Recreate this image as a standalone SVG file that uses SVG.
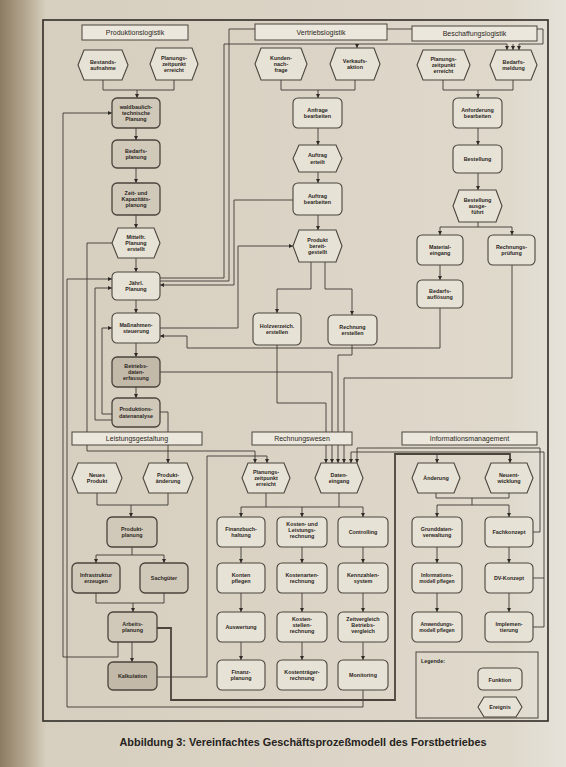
<svg xmlns="http://www.w3.org/2000/svg" width="566" height="767" viewBox="0 0 566 767">
<defs>
<linearGradient id="bg" x1="0" y1="0" x2="1" y2="0">
<stop offset="0" stop-color="#8c7c63"/>
<stop offset="0.045" stop-color="#b5a78f"/>
<stop offset="0.08" stop-color="#d6cebe"/>
<stop offset="0.9" stop-color="#dfd9cc"/>
<stop offset="1" stop-color="#e6e2da"/>
</linearGradient>
<marker id="a" viewBox="0 0 6 6" refX="6" refY="3" markerWidth="4" markerHeight="4" orient="auto" markerUnits="userSpaceOnUse">
<path d="M0,0L6,3L0,6z" fill="#2e2a26"/>
</marker>
<style>
.n{fill:#e7e2d6;stroke:#4a443d;stroke-width:1.1}
.s{fill:#d0c8b8;stroke:#4a443d;stroke-width:1.3}
.sd{fill:#c2b9a8;stroke:#4a443d;stroke-width:1.3}
.t{font-family:"Liberation Sans",Arial,sans-serif;font-size:5.4px;font-weight:bold;fill:#2b2723;text-anchor:middle}
.hr{fill:#ebe7dd;stroke:#4a443d;stroke-width:1}
.ht{font-family:"Liberation Sans",Arial,sans-serif;font-size:7px;fill:#2b2723;text-anchor:middle}
.c{fill:none;stroke:#3d3833;stroke-width:0.9}
.ca{fill:none;stroke:#3d3833;stroke-width:0.9;marker-end:url(#a)}
.ck{fill:none;stroke:#4a443d;stroke-width:1.8}
.fr{fill:none;stroke:#3a3530;stroke-width:1.7}
</style>
</defs>
<rect x="0" y="0" width="566" height="767" fill="url(#bg)"/>
<rect class="fr" x="43" y="20" width="505" height="701"/>

<g id="connectors">
<path class="c" d="M103,80V90H174V80"/>
<path class="ca" d="M137,90V98"/>
<path class="ca" d="M136,128V140"/>
<path class="ca" d="M136,168V183"/>
<path class="ca" d="M136,215V228"/>
<path class="ca" d="M136,258V272"/>
<path class="ca" d="M136,300V313"/>
<path class="ca" d="M136,343V357"/>
<path class="ca" d="M136,387V398"/>
<path class="ca" d="M118,642V657H63V113H112"/>
<path class="ca" d="M363,690V707H67V279H112"/>
<path class="ca" d="M112,420H95V288H112"/>
<path class="ca" d="M112,414H102V328H112"/>
<path class="ca" d="M113,243H87V451H255V463"/>
<path class="ca" d="M160,412H168V463"/>
<path class="ca" d="M160,372H332V463"/>
<path class="ca" d="M160,328H238V246H293"/>
<path class="ca" d="M440,308V348H187V336H160"/>
<path class="ca" d="M160,278H224V44H507V50"/>
<path class="ca" d="M357,44V48"/>
<path class="ca" d="M160,281H229V29H543V44H519V50"/>
<path class="ca" d="M513,44V50"/>
<path class="ca" d="M293,200H234V285H160"/>
<path class="c" d="M281,80V90H355V80"/>
<path class="ca" d="M318,90V98"/>
<path class="ca" d="M318,128V145"/>
<path class="ca" d="M318,172V183"/>
<path class="ca" d="M318,215V230"/>
<path class="ca" d="M311,262V289H277V313"/>
<path class="ca" d="M325,262V289H352V315"/>
<path class="ca" d="M277,345V403H326V463"/>
<path class="ca" d="M352,345V355H338V463"/>
<path class="ca" d="M512,265V378H344V463"/>
<path class="c" d="M443,80V90H513V80"/>
<path class="ca" d="M478,90V98"/>
<path class="ca" d="M478,128V145"/>
<path class="ca" d="M478,173V190"/>
<path class="ca" d="M478,222V227H440V235"/>
<path class="ca" d="M478,227H512V235"/>
<path class="ca" d="M440,265V280"/>
<path class="c" d="M97,493V505H168V493"/>
<path class="ca" d="M131,505V517"/>
<path class="ca" d="M132,547V555H96V563"/>
<path class="ca" d="M132,555H164V563"/>
<path class="c" d="M96,593V603H164V593"/>
<path class="ca" d="M133,603V612"/>
<path class="ca" d="M132,642V662"/>
<path class="ca" d="M157,677H207V456H267V463"/>
<path class="ck" d="M157,628H171V700H395V454H510V460"/>
<path class="ca" d="M510,458V463"/>
<path class="ca" d="M437,454V463"/>
<path class="c" d="M266,493V507M339,493V507M241,507H363"/>
<path class="ca" d="M241,507V517"/>
<path class="ca" d="M302,507V517"/>
<path class="ca" d="M363,507V517"/>
<path class="ca" d="M241,547V563"/>
<path class="ca" d="M241,593V612"/>
<path class="ca" d="M241,642V660"/>
<path class="ca" d="M302,547V563"/>
<path class="ca" d="M302,593V612"/>
<path class="ca" d="M302,642V660"/>
<path class="ca" d="M363,547V563"/>
<path class="ca" d="M363,593V612"/>
<path class="ca" d="M363,642V660"/>
<path class="c" d="M436,493V498H509V493M472,498V505M437,505H509"/>
<path class="ca" d="M437,505V517"/>
<path class="ca" d="M509,505V517"/>
<path class="ca" d="M437,547V563"/>
<path class="ca" d="M437,593V612"/>
<path class="ca" d="M509,547V563"/>
<path class="ca" d="M509,593V612"/>
<path class="ca" d="M533,532H540V448H357V463"/>
<path class="ca" d="M533,578H544V452H351V463"/>
<path class="c" d="M533,627H544V578"/>
</g>

<g id="headers">
<g id="h-produktion"><rect class="hr" x="82" y="25" width="106" height="15"/><text class="ht" x="135" y="35">Produktionslogistik</text></g>
<g id="h-vertrieb"><rect class="hr" x="255" y="24" width="132" height="16"/><text class="ht" x="321" y="34.5">Vertriebslogistik</text></g>
<g id="h-beschaffung"><rect class="hr" x="412" y="26" width="125" height="15"/><text class="ht" x="474.5" y="36">Beschaffungslogistik</text></g>
<g id="h-leistung"><rect class="hr" x="72" y="432" width="130" height="13"/><text class="ht" x="137" y="441">Leistungsgestaltung</text></g>
<g id="h-rechnung"><rect class="hr" x="252" y="432" width="100" height="13"/><text class="ht" x="302" y="441">Rechnungswesen</text></g>
<g id="h-info"><rect class="hr" x="402" y="432" width="135" height="13"/><text class="ht" x="469.5" y="441">Informationsmanagement</text></g>
</g>

<g id="bestandsaufnahme"><polygon class="n" points="78,65 84,50 122,50 128,65 122,80 84,80"/><text class="t" y="63.7"><tspan x="103">Bestands-</tspan><tspan x="103" dy="6.4">aufnahme</tspan></text></g>
<g id="p-planungszeitpunkt"><polygon class="n" points="150,64 156,48 192,48 198,64 192,80 156,80"/><text class="t" y="59.5"><tspan x="174">Planungs-</tspan><tspan x="174" dy="6.4">zeitpunkt</tspan><tspan x="174" dy="6.4">erreicht</tspan></text></g>
<g id="waldbau"><rect class="s" x="112" y="98" width="48" height="30" rx="5"/><text class="t" y="108.5"><tspan x="136">waldbaulich-</tspan><tspan x="136" dy="6.4">technische</tspan><tspan x="136" dy="6.4">Planung</tspan></text></g>
<g id="bedarfsplanung"><rect class="s" x="112" y="140" width="48" height="28" rx="5"/><text class="t" y="152.7"><tspan x="136">Bedarfs-</tspan><tspan x="136" dy="6.4">planung</tspan></text></g>
<g id="zeitplanung"><rect class="s" x="112" y="183" width="48" height="32" rx="5"/><text class="t" y="194.5"><tspan x="136">Zeit- und</tspan><tspan x="136" dy="6.4">Kapazitäts-</tspan><tspan x="136" dy="6.4">planung</tspan></text></g>
<g id="mittelfr"><polygon class="n" points="112,243 118,228 154,228 160,243 154,258 118,258"/><text class="t" y="238.5"><tspan x="136">Mittelfr.</tspan><tspan x="136" dy="6.4">Planung</tspan><tspan x="136" dy="6.4">erstellt</tspan></text></g>
<g id="jaehrl"><rect class="n" x="112" y="272" width="48" height="28" rx="5"/><text class="t" y="284.7"><tspan x="136">Jährl.</tspan><tspan x="136" dy="6.4">Planung</tspan></text></g>
<g id="massnahmen"><rect class="n" x="112" y="313" width="48" height="30" rx="5"/><text class="t" y="326.7"><tspan x="136">Maßnahmen-</tspan><tspan x="136" dy="6.4">steuerung</tspan></text></g>
<g id="betriebsdaten"><rect class="sd" x="112" y="357" width="48" height="30" rx="5"/><text class="t" y="367.5"><tspan x="136">Betriebs-</tspan><tspan x="136" dy="6.4">daten-</tspan><tspan x="136" dy="6.4">erfassung</tspan></text></g>
<g id="produktionsdaten"><rect class="s" x="112" y="398" width="48" height="29" rx="5"/><text class="t" y="411.2"><tspan x="136">Produktions-</tspan><tspan x="136" dy="6.4">datenanalyse</tspan></text></g>

<g id="kundennachfrage"><polygon class="n" points="255,64 261,48 301,48 307,64 301,80 261,80"/><text class="t" y="59.5"><tspan x="281">Kunden-</tspan><tspan x="281" dy="6.4">nach-</tspan><tspan x="281" dy="6.4">frage</tspan></text></g>
<g id="verkaufsaktion"><polygon class="n" points="330,64 336,48 374,48 380,64 374,80 336,80"/><text class="t" y="62.7"><tspan x="355">Verkaufs-</tspan><tspan x="355" dy="6.4">aktion</tspan></text></g>
<g id="anfrage"><rect class="n" x="293" y="98" width="49" height="30" rx="5"/><text class="t" y="111.7"><tspan x="317.5">Anfrage</tspan><tspan x="317.5" dy="6.4">bearbeiten</tspan></text></g>
<g id="auftrag-erteilt"><polygon class="n" points="293,158.5 299,145 336,145 342,158.5 336,172 299,172"/><text class="t" y="157.2"><tspan x="317.5">Auftrag</tspan><tspan x="317.5" dy="6.4">erteilt</tspan></text></g>
<g id="auftrag-bearbeiten"><rect class="n" x="293" y="183" width="49" height="32" rx="5"/><text class="t" y="197.7"><tspan x="317.5">Auftrag</tspan><tspan x="317.5" dy="6.4">bearbeiten</tspan></text></g>
<g id="produkt-bereit"><polygon class="n" points="293,246 299,230 336,230 342,246 336,262 299,262"/><text class="t" y="241.5"><tspan x="317.5">Produkt</tspan><tspan x="317.5" dy="6.4">bereit-</tspan><tspan x="317.5" dy="6.4">gestellt</tspan></text></g>
<g id="holzverzeichnis"><rect class="n" x="253" y="313" width="48" height="32" rx="5"/><text class="t" y="327.7"><tspan x="277">Holzverzeich.</tspan><tspan x="277" dy="6.4">erstellen</tspan></text></g>
<g id="rechnung-erstellen"><rect class="n" x="328" y="315" width="49" height="30" rx="5"/><text class="t" y="328.7"><tspan x="352.5">Rechnung</tspan><tspan x="352.5" dy="6.4">erstellen</tspan></text></g>

<g id="b-planungszeitpunkt"><polygon class="n" points="417,65 423,50 464,50 470,65 464,80 423,80"/><text class="t" y="60.5"><tspan x="443.5">Planungs-</tspan><tspan x="443.5" dy="6.4">zeitpunkt</tspan><tspan x="443.5" dy="6.4">erreicht</tspan></text></g>
<g id="bedarfsmeldung"><polygon class="n" points="490,65 496,50 531,50 537,65 531,80 496,80"/><text class="t" y="63.7"><tspan x="513.5">Bedarfs-</tspan><tspan x="513.5" dy="6.4">meldung</tspan></text></g>
<g id="anforderung"><rect class="n" x="453" y="98" width="49" height="30" rx="5"/><text class="t" y="111.7"><tspan x="477.5">Anforderung</tspan><tspan x="477.5" dy="6.4">bearbeiten</tspan></text></g>
<g id="bestellung"><rect class="n" x="453" y="145" width="49" height="28" rx="5"/><text class="t" x="477.5" y="160.9">Bestellung</text></g>
<g id="bestellung-ausgefuehrt"><polygon class="n" points="453,206 459,190 496,190 502,206 496,222 459,222"/><text class="t" y="201.5"><tspan x="477.5">Bestellung</tspan><tspan x="477.5" dy="6.4">ausge-</tspan><tspan x="477.5" dy="6.4">führt</tspan></text></g>
<g id="materialeingang"><rect class="n" x="417" y="235" width="46" height="30" rx="5"/><text class="t" y="248.7"><tspan x="440">Material-</tspan><tspan x="440" dy="6.4">eingang</tspan></text></g>
<g id="rechnungspruefung"><rect class="n" x="488" y="235" width="47" height="30" rx="5"/><text class="t" y="248.7"><tspan x="511.5">Rechnungs-</tspan><tspan x="511.5" dy="6.4">prüfung</tspan></text></g>
<g id="bedarfsaufloesung"><rect class="n" x="417" y="280" width="46" height="28" rx="5"/><text class="t" y="292.7"><tspan x="440">Bedarfs-</tspan><tspan x="440" dy="6.4">auflösung</tspan></text></g>

<g id="neues-produkt"><polygon class="n" points="72,478 78,463 116,463 122,478 116,493 78,493"/><text class="t" y="476.7"><tspan x="97">Neues</tspan><tspan x="97" dy="6.4">Produkt</tspan></text></g>
<g id="produktaenderung"><polygon class="n" points="143,478 149,463 187,463 193,478 187,493 149,493"/><text class="t" y="476.7"><tspan x="168">Produkt-</tspan><tspan x="168" dy="6.4">änderung</tspan></text></g>
<g id="produktplanung"><rect class="s" x="107" y="517" width="50" height="30" rx="5"/><text class="t" y="530.7"><tspan x="132">Produkt-</tspan><tspan x="132" dy="6.4">planung</tspan></text></g>
<g id="infrastruktur"><rect class="s" x="72" y="563" width="48" height="30" rx="5"/><text class="t" y="576.7"><tspan x="96">Infrastruktur</tspan><tspan x="96" dy="6.4">erzeugen</tspan></text></g>
<g id="sachgueter"><rect class="s" x="140" y="563" width="48" height="30" rx="5"/><text class="t" x="164" y="579.9">Sachgüter</text></g>
<g id="arbeitsplanung"><rect class="s" x="108" y="612" width="49" height="30" rx="5"/><text class="t" y="625.7"><tspan x="132.5">Arbeits-</tspan><tspan x="132.5" dy="6.4">planung</tspan></text></g>
<g id="kalkulation"><rect class="sd" x="108" y="662" width="49" height="28" rx="5"/><text class="t" x="132.5" y="677.9">Kalkulation</text></g>

<g id="r-planungszeitpunkt"><polygon class="n" points="242,478 248,463 284,463 290,478 284,493 248,493"/><text class="t" y="473.5"><tspan x="266">Planungs-</tspan><tspan x="266" dy="6.4">zeitpunkt</tspan><tspan x="266" dy="6.4">erreicht</tspan></text></g>
<g id="dateneingang"><polygon class="n" points="315,478 321,463 357,463 363,478 357,493 321,493"/><text class="t" y="476.7"><tspan x="339">Daten-</tspan><tspan x="339" dy="6.4">eingang</tspan></text></g>
<g id="finanzbuchhaltung"><rect class="n" x="217" y="517" width="48" height="30" rx="5"/><text class="t" y="530.7"><tspan x="241">Finanzbuch-</tspan><tspan x="241" dy="6.4">haltung</tspan></text></g>
<g id="klr"><rect class="n" x="277" y="517" width="50" height="30" rx="5"/><text class="t" y="525.5"><tspan x="302">Kosten- und</tspan><tspan x="302" dy="6.4">Leistungs-</tspan><tspan x="302" dy="6.4">rechnung</tspan></text></g>
<g id="controlling"><rect class="n" x="338" y="517" width="50" height="30" rx="5"/><text class="t" x="363" y="533.9">Controlling</text></g>
<g id="konten"><rect class="n" x="217" y="563" width="48" height="30" rx="5"/><text class="t" y="576.7"><tspan x="241">Konten</tspan><tspan x="241" dy="6.4">pflegen</tspan></text></g>
<g id="kostenarten"><rect class="n" x="277" y="563" width="50" height="30" rx="5"/><text class="t" y="576.7"><tspan x="302">Kostenarten-</tspan><tspan x="302" dy="6.4">rechnung</tspan></text></g>
<g id="kennzahlen"><rect class="n" x="338" y="563" width="50" height="30" rx="5"/><text class="t" y="576.7"><tspan x="363">Kennzahlen-</tspan><tspan x="363" dy="6.4">system</tspan></text></g>
<g id="auswertung"><rect class="n" x="217" y="612" width="48" height="30" rx="5"/><text class="t" x="241" y="628.9">Auswertung</text></g>
<g id="kostenstellen"><rect class="n" x="277" y="612" width="50" height="30" rx="5"/><text class="t" y="620.5"><tspan x="302">Kosten-</tspan><tspan x="302" dy="6.4">stellen-</tspan><tspan x="302" dy="6.4">rechnung</tspan></text></g>
<g id="zeitvergleich"><rect class="n" x="338" y="612" width="50" height="30" rx="5"/><text class="t" y="620.5"><tspan x="363">Zeitvergleich</tspan><tspan x="363" dy="6.4">Betriebs-</tspan><tspan x="363" dy="6.4">vergleich</tspan></text></g>
<g id="finanzplanung"><rect class="n" x="217" y="660" width="48" height="30" rx="5"/><text class="t" y="673.7"><tspan x="241">Finanz-</tspan><tspan x="241" dy="6.4">planung</tspan></text></g>
<g id="kostentraeger"><rect class="n" x="277" y="660" width="50" height="30" rx="5"/><text class="t" y="673.7"><tspan x="302">Kostenträger-</tspan><tspan x="302" dy="6.4">rechnung</tspan></text></g>
<g id="monitoring"><rect class="n" x="338" y="660" width="50" height="30" rx="5"/><text class="t" x="363" y="676.9">Monitoring</text></g>

<g id="aenderung"><polygon class="n" points="412,478 418,463 454,463 460,478 454,493 418,493"/><text class="t" x="436" y="479.9">Änderung</text></g>
<g id="neuentwicklung"><polygon class="n" points="485,478 491,463 527,463 533,478 527,493 491,493"/><text class="t" y="476.7"><tspan x="509">Neuent-</tspan><tspan x="509" dy="6.4">wicklung</tspan></text></g>
<g id="grunddaten"><rect class="n" x="412" y="517" width="50" height="30" rx="5"/><text class="t" y="530.7"><tspan x="437">Grunddaten-</tspan><tspan x="437" dy="6.4">verwaltung</tspan></text></g>
<g id="fachkonzept"><rect class="n" x="485" y="517" width="48" height="30" rx="5"/><text class="t" x="509" y="533.9">Fachkonzept</text></g>
<g id="informationsmodell"><rect class="n" x="412" y="563" width="50" height="30" rx="5"/><text class="t" y="576.7" style="font-size:5px"><tspan x="437">Informations-</tspan><tspan x="437" dy="6.4">modell pflegen</tspan></text></g>
<g id="dv-konzept"><rect class="n" x="485" y="563" width="48" height="30" rx="5"/><text class="t" x="509" y="579.9">DV-Konzept</text></g>
<g id="anwendungsmodell"><rect class="n" x="412" y="612" width="50" height="30" rx="5"/><text class="t" y="625.7" style="font-size:5px"><tspan x="437">Anwendungs-</tspan><tspan x="437" dy="6.4">modell pflegen</tspan></text></g>
<g id="implementierung"><rect class="n" x="485" y="612" width="48" height="30" rx="5"/><text class="t" y="625.7"><tspan x="509">Implemen-</tspan><tspan x="509" dy="6.4">tierung</tspan></text></g>

<g id="legende">
<rect x="416" y="652" width="122" height="66" fill="none" stroke="#4a443d" stroke-width="1"/>
<text class="t" x="421" y="663" style="text-anchor:start">Legende:</text>
<rect class="n" x="478" y="668" width="44" height="22" rx="5"/><text class="t" x="500" y="681.9">Funktion</text>
<polygon class="n" points="478,707 484,697 516,697 522,707 516,717 484,717"/><text class="t" x="500" y="708.9">Ereignis</text>
</g>

<text x="303" y="746" textLength="367" lengthAdjust="spacingAndGlyphs" style="font-family:'Liberation Sans',Arial,sans-serif;font-size:10px;font-weight:bold;fill:#262320;text-anchor:middle">Abbildung 3: Vereinfachtes Geschäftsprozeßmodell des Forstbetriebes</text>
</svg>
